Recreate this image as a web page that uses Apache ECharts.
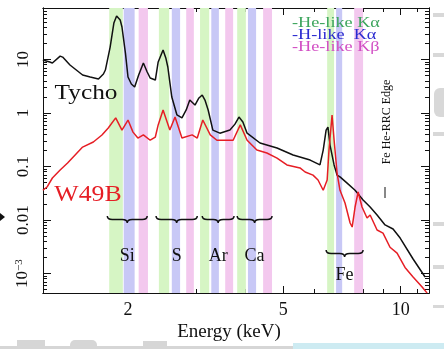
<!DOCTYPE html>
<html>
<head>
<meta charset="utf-8">
<script src="https://cdn.jsdelivr.net/npm/echarts@6/dist/echarts.min.js"></script>
<style>
html, body { margin: 0; padding: 0; background: #fff; }
#main { width: 444px; height: 349px; }
</style>
</head>
<body>
<div id="main"></div>
<script>
// spectra, energy in keV and flux
var tychoE = [1.21, 1.26, 1.28, 1.34, 1.36, 1.42, 1.53, 1.60, 1.68, 1.73, 1.75, 1.80, 1.84, 1.87, 1.91, 1.93, 1.97, 2.00, 2.04, 2.08, 2.13, 2.19, 2.24, 2.28, 2.35, 2.39, 2.46, 2.50, 2.53, 2.59, 2.67, 2.75, 2.82, 2.88, 2.97, 3.04, 3.10, 3.15, 3.21, 3.30, 3.44, 3.65, 3.76, 3.85, 3.94, 4.04, 4.36, 4.82, 5.30, 5.86, 6.21, 6.33, 6.44, 6.51, 6.59, 6.75, 6.87, 6.99, 7.29, 7.64, 8.01, 8.35, 8.70, 9.12, 9.56, 9.97, 10.76, 11.55];
var tychoF = [9.8, 9.0, 8.6, 11.6, 11.1, 7.9, 5.13, 4.71, 4.32, 5.36, 6.36, 17.1, 48.1, 65, 54.7, 40.5, 13.2, 4.71, 3.48, 3.06, 5.13, 8.6, 5.84, 4.51, 4.14, 9.0, 15.1, 10.7, 7.24, 1.99, 0.92, 0.81, 1.14, 1.75, 1.41, 1.91, 2.17, 1.75, 1.14, 0.48, 0.42, 0.48, 0.62, 0.84, 0.68, 0.42, 0.275, 0.222, 0.164, 0.132, 0.107, 0.203, 0.48, 0.547, 0.252, 0.107, 0.069, 0.064, 0.049, 0.036, 0.0236, 0.0175, 0.0124, 0.0081, 0.0068, 0.0046, 0.00187, 0.00086];
var w49bE = [1.21, 1.24, 1.28, 1.34, 1.40, 1.48, 1.53, 1.63, 1.715, 1.78, 1.86, 1.93, 2.00, 2.06, 2.12, 2.19, 2.28, 2.35, 2.39, 2.46, 2.56, 2.64, 2.75, 2.92, 3.01, 3.11, 3.25, 3.38, 3.72, 3.88, 4.04, 4.28, 4.54, 4.82, 5.11, 5.52, 5.69, 5.96, 6.14, 6.33, 6.48, 6.55, 6.67, 6.75, 6.87, 6.99, 7.20, 7.42, 7.51, 7.64, 7.78, 7.96, 8.20, 8.35, 8.70, 9.01, 9.39, 9.79, 10.26, 10.76, 11.35, 11.69];
var w49bF = [0.036, 0.0414, 0.061, 0.086, 0.116, 0.179, 0.231, 0.287, 0.388, 0.524, 0.81, 0.48, 0.74, 0.44, 0.34, 0.39, 0.31, 0.356, 0.60, 1.14, 0.48, 0.84, 0.34, 0.39, 0.34, 0.74, 0.39, 0.31, 0.31, 0.60, 0.31, 0.203, 0.179, 0.144, 0.107, 0.094, 0.079, 0.069, 0.056, 0.036, 0.056, 0.203, 0.92, 0.313, 0.0756, 0.036, 0.0208, 0.0088, 0.0074, 0.0175, 0.0334, 0.0175, 0.0109, 0.0124, 0.0065, 0.0057, 0.0031, 0.0024, 0.0013, 0.00086, 0.00056, 0.00043];

// line bands (keV) for Si, S, Ar, Ca, Fe
var heKaLo = [1.79, 2.40, 3.06, 3.81, 6.48];
var heKaHi = [1.94, 2.55, 3.23, 4.01, 6.75];
var hKaLo = [1.95, 2.59, 3.27, 4.06, 6.83];
var hKaHi = [2.08, 2.72, 3.42, 4.26, 7.08];
var heKbLo = [2.13, 2.82, 3.55, 4.44, 7.60];
var heKbHi = [2.25, 2.95, 3.72, 4.68, 8.01];

var elements = ['Si', 'S', 'Ar', 'Ca', 'Fe'];
var braceLo = [1.77, 2.36, 3.10, 3.81, 6.44];
var braceHi = [2.24, 3.01, 3.74, 4.68, 8.01];
var braceF = [0.0119, 0.0119, 0.0119, 0.0119, 0.00275];
var elemLabelF = [0.00212, 0.00212, 0.00212, 0.00212, 0.00094];

var xLabels = [2, 5, 10];
var xMinor = [3, 4, 6, 7, 8, 9, 11];
var yLabels = [0.001, 0.01, 0.1, 1, 10];

var lg = Math.log10;
var serif = '"Liberation Serif", "DejaVu Serif", serif';
var yMinor = [];
[0.0001, 0.001, 0.01, 0.1, 1, 10].forEach(function (d) {
    for (var k = 2; k <= 9; k++) yMinor.push(k * d);
});

function pairs(xs, ys) {
    return xs.map(function (x, i) { return [lg(x), lg(ys[i])]; });
}
function bands(lo, hi, color) {
    return lo.map(function (a, i) {
        return [{ xAxis: lg(a), itemStyle: { color: color } }, { xAxis: lg(hi[i]) }];
    });
}

function xAx(pos, ticks, len, withLabels) {
    return {
        type: 'value', position: pos, min: lg(1.211), max: lg(11.82),
        splitLine: { show: false },
        axisLine: { show: true, onZero: false, lineStyle: { color: '#111', width: 1 } },
        axisTick: { inside: true, length: len, customValues: ticks.map(lg), lineStyle: { color: '#111' } },
        axisLabel: withLabels ? {
            customValues: xLabels.map(lg), margin: 8,
            fontFamily: serif, fontSize: 18, color: '#111',
            formatter: function (v) { return String(Math.round(Math.pow(10, v))); }
        } : { show: false }
    };
}
function yAx(pos, ticks, len, withLabels) {
    return {
        type: 'value', position: pos, min: -3.364, max: 1.963,
        splitLine: { show: false },
        axisLine: { show: true, onZero: false, lineStyle: { color: '#111', width: 1 } },
        axisTick: { inside: true, length: len, customValues: ticks.map(lg), lineStyle: { color: '#111' } },
        axisLabel: withLabels ? {
            customValues: yLabels.map(lg), rotate: 90, margin: 11,
            fontFamily: serif, fontSize: 17, color: '#111',
            formatter: function (v) {
                var e = Math.round(v);
                if (e === -3) return '{b|10}{s|\u22123}';
                return '{b|' + String(Math.pow(10, e).toFixed(Math.max(0, -e))) + '}';
            },
            rich: {
                b: { fontFamily: serif, fontSize: 17, color: '#111' },
                s: { fontFamily: serif, fontSize: 11, color: '#111', verticalAlign: 'top', padding: [0, 0, 7, 0] }
            }
        } : { show: false }
    };
}

function txt(x, y, text, color, size, opts) {
    var el = {
        type: 'text', x: x, y: y, z: 100,
        style: { text: text, fill: color, font: size + 'px ' + serif, align: 'center', verticalAlign: 'middle' }
    };
    for (var k in (opts || {})) {
        if (k === 'align') el.style.align = opts[k]; else el[k] = opts[k];
    }
    return el;
}
function box(x, y, w, h, color, r) {
    return { type: 'rect', z: 100, shape: { x: x, y: y, width: w, height: h, r: r || 0 }, style: { fill: color } };
}

var chart = echarts.init(document.getElementById('main'));
chart.setOption({
    animation: false,
    grid: { left: 43, right: 15, top: 8, bottom: 56 },
    xAxis: [
        xAx('bottom', xLabels, 7, true),
        xAx('bottom', xMinor, 4, false),
        xAx('top', xLabels, 7, false),
        xAx('top', xMinor, 4, false)
    ],
    yAxis: [
        yAx('left', yLabels, 8, true),
        yAx('left', yMinor, 4, false),
        yAx('right', yLabels, 8, false),
        yAx('right', yMinor, 4, false)
    ],
    series: [
        {
            type: 'line', data: [], z: 1, silent: true,
            markArea: {
                silent: true,
                data: bands(heKaLo, heKaHi, 'rgb(214,245,196)')
                    .concat(bands(hKaLo, hKaHi, 'rgb(200,200,246)'))
                    .concat(bands(heKbLo, heKbHi, 'rgb(243,200,238)'))
            }
        },
        {
            name: 'Tycho', type: 'line', z: 3, data: pairs(tychoE, tychoF),
            showSymbol: false, lineStyle: { color: '#111', width: 1.5 }
        },
        {
            name: 'W49B', type: 'line', z: 3, data: pairs(w49bE, w49bF),
            showSymbol: false, lineStyle: { color: '#e61e25', width: 1.5 }
        },
        {
            type: 'custom', z: 4, silent: true,
            data: elements.map(function (el, i) {
                return [lg(braceLo[i]), lg(braceHi[i]), lg(braceF[i]), lg(elemLabelF[i])];
            }),
            encode: { x: [0, 1], y: [2, 3] },
            renderItem: function (params, api) {
                var a = api.coord([api.value(0), api.value(2)]);
                var b = api.coord([api.value(1), api.value(2)]);
                var t = api.coord([(api.value(0) + api.value(1)) / 2, api.value(3)]);
                var x1 = a[0], x2 = b[0], y0 = a[1], h = 7, r = 5;
                var xm = (x1 + x2) / 2, yc = y0 + h / 2;
                var d = 'M' + x1 + ' ' + y0 + ' Q' + x1 + ' ' + yc + ' ' + (x1 + r) + ' ' + yc +
                    ' L' + (xm - r) + ' ' + yc + ' Q' + xm + ' ' + yc + ' ' + xm + ' ' + (y0 + h) +
                    ' Q' + xm + ' ' + yc + ' ' + (xm + r) + ' ' + yc +
                    ' L' + (x2 - r) + ' ' + yc + ' Q' + x2 + ' ' + yc + ' ' + x2 + ' ' + y0;
                return {
                    type: 'group',
                    children: [
                        { type: 'path', shape: { pathData: d }, style: { stroke: '#111', fill: 'none', lineWidth: 1.5 } },
                        {
                            type: 'text', x: t[0], y: t[1],
                            style: {
                                text: elements[params.dataIndex], fill: '#111',
                                font: '18px ' + serif, align: 'center', verticalAlign: 'middle'
                            }
                        }
                    ]
                };
            }
        }
    ],
    graphic: [
        txt(86, 93, 'Tycho', '#111', 22, { scaleX: 1.15 }),
        txt(88, 195, 'W49B', '#e61e25', 23, { scaleX: 1.12 }),
        txt(292, 23, '-He-like K\u03b1', '#3da55d', 14, { align: 'left', scaleX: 1.3 }),
        txt(292, 35, '-H-like  K\u03b1', '#2a2ad0', 14, { align: 'left', scaleX: 1.3 }),
        txt(292, 47, '-He-like K\u03b2', '#d24fc4', 14, { align: 'left', scaleX: 1.3 }),
        txt(387, 122, 'Fe He-RRC Edge', '#111', 12, { rotation: Math.PI / 2 }),
        { type: 'line', z: 100, shape: { x1: 385, y1: 187, x2: 385, y2: 198 }, style: { stroke: '#111', lineWidth: 1 } },
        txt(229, 332, 'Energy (keV)', '#111', 19),
        { type: 'polygon', z: 100, shape: { points: [[0, 213], [5, 217], [0, 221]] }, style: { fill: '#111' } },
        box(0, 346, 293, 3, '#d6d6d6'),
        box(17, 340, 28, 9, '#d6d6d6'),
        box(70, 340, 27, 9, '#d6d6d6', [5, 5, 0, 0]),
        box(143, 341, 24, 8, '#d6d6d6'),
        box(293, 343, 151, 6, '#cdebf2'),
        box(433, 13, 11, 4, '#d8d8d8'),
        box(433, 53, 11, 4, '#d8d8d8'),
        box(434, 88, 10, 29, '#d8d8d8', [6, 0, 0, 6]),
        box(433, 132, 11, 4, '#d8d8d8'),
        box(433, 222, 11, 4, '#d8d8d8'),
        box(433, 265, 11, 4, '#d8d8d8'),
        box(433, 305, 11, 3, '#d8d8d8')
    ]
});
</script>
</body>
</html>
